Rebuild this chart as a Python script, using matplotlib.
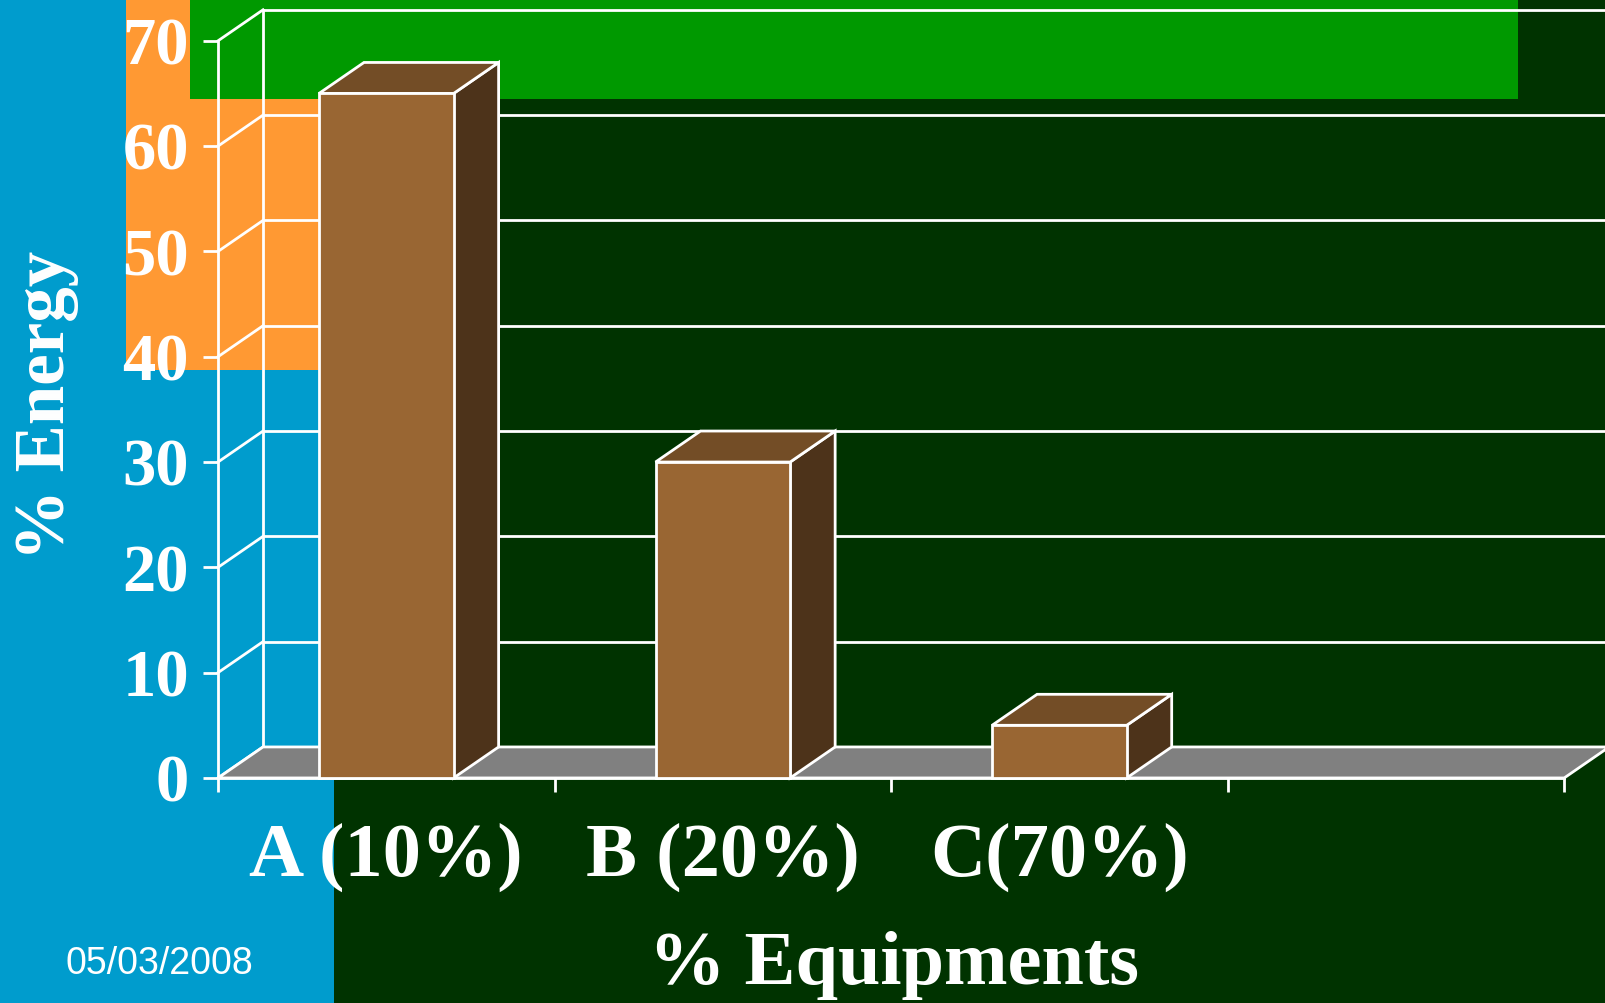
import matplotlib
matplotlib.use("Agg")
import matplotlib.pyplot as plt
from matplotlib.patches import Rectangle, Polygon

# data
categories = ["A (10%)", "B (20%)", "C(70%)"]
energy = [65, 30, 5]
yticks = [0, 10, 20, 30, 40, 50, 60, 70]
n_slots = 4   # the x axis has room for a 4th, empty slot

W, H = 1605, 1003
plt.rcParams['font.family'] = ['Liberation Serif', 'DejaVu Serif']
plt.rcParams['font.weight'] = 'bold'

fig = plt.figure(figsize=(W / 100 + 0.002, H / 100 + 0.002), dpi=100, facecolor="#003300")

# slide decoration behind the chart
def fig_rect(x0, y0, x1, y1, color):
    # pixel box (top-left origin) -> figure fraction
    fig.add_artist(Rectangle((x0 / W, 1 - y1 / H), (x1 - x0) / W, (y1 - y0) / H,
                             transform=fig.transFigure, color=color, lw=0, zorder=-10))

fig_rect(0, 0, 334, H + 2, "#009CCD")
fig_rect(126, 0, 334, 370, "#FF9933")
fig_rect(190, 0, 1518, 99, "#009900")

ax = fig.add_axes([218 / W, (H - 778) / H, (1564 - 218) / W, (778 - 41) / H])
ax.set_xlim(0, n_slots)
ax.set_ylim(0, 70)
ax.patch.set_visible(False)

# depth of the 3d look, in pixels -> data units
bbox = ax.get_window_extent()
ddx = 45 / bbox.width * n_slots
ddy = 31 / bbox.height * 70

lw = 2.0
white = "white"

# back wall gridlines
for v in yticks:
    ax.plot([ddx, n_slots + ddx], [v + ddy, v + ddy], color=white, lw=lw, clip_on=False, zorder=1)
ax.plot([ddx, ddx], [ddy, 70 + ddy], color=white, lw=lw, clip_on=False, zorder=1)
# side wall lines
for v in yticks:
    ax.plot([0, ddx], [v, v + ddy], color=white, lw=lw, clip_on=False, zorder=1)

# floor
ax.add_patch(Polygon([(0, 0), (n_slots, 0), (n_slots + ddx, ddy), (ddx, ddy)],
                     closed=True, fc="#808080", ec=white, lw=lw, clip_on=False, zorder=2))

# bars
bw = 0.4
for i, v in enumerate(energy):
    x0 = i + 0.5 - bw / 2
    x1 = x0 + bw
    ax.add_patch(Polygon([(x1, 0), (x1 + ddx, ddy), (x1 + ddx, v + ddy), (x1, v)],
                         fc="#4D331A", ec=white, lw=lw, clip_on=False, zorder=3))
    ax.add_patch(Polygon([(x0, v), (x1, v), (x1 + ddx, v + ddy), (x0 + ddx, v + ddy)],
                         fc="#734D26", ec=white, lw=lw, clip_on=False, zorder=3))
    ax.add_patch(Rectangle((x0, 0), bw, v, fc="#996633", ec=white, lw=lw,
                           clip_on=False, zorder=4))

# axes styling
for s in ["top", "right"]:
    ax.spines[s].set_visible(False)
for s in ["left", "bottom"]:
    ax.spines[s].set_color(white)
    ax.spines[s].set_linewidth(lw)

ax.set_yticks(yticks)
ax.tick_params(axis='y', colors=white, length=11, width=lw, pad=10, labelsize=48)

ax.set_xticks(range(n_slots + 1))
ax.set_xticklabels([])
ax.set_xticks([i + 0.5 for i in range(len(categories))], minor=True)
ax.set_xticklabels(categories, minor=True)
ax.tick_params(axis='x', which='major', colors=white, length=10, width=lw)
ax.tick_params(axis='x', which='minor', colors=white, length=0, pad=32, labelsize=55)

fig.text(46 / W, 1 - 405 / H, "% Energy", rotation=90, ha="center", va="center",
         color=white, fontsize=51)
fig.text(894 / W, 1 - 965 / H, "% Equipments", ha="center", va="center",
         color=white, fontsize=55)
fig.text(65 / W, 1 - 964 / H, "05/03/2008", ha="left", va="center", color=white,
         fontsize=27, fontweight="normal", family=["Liberation Sans", "DejaVu Sans"])

fig.savefig("out.png", dpi=100, facecolor=fig.get_facecolor())
